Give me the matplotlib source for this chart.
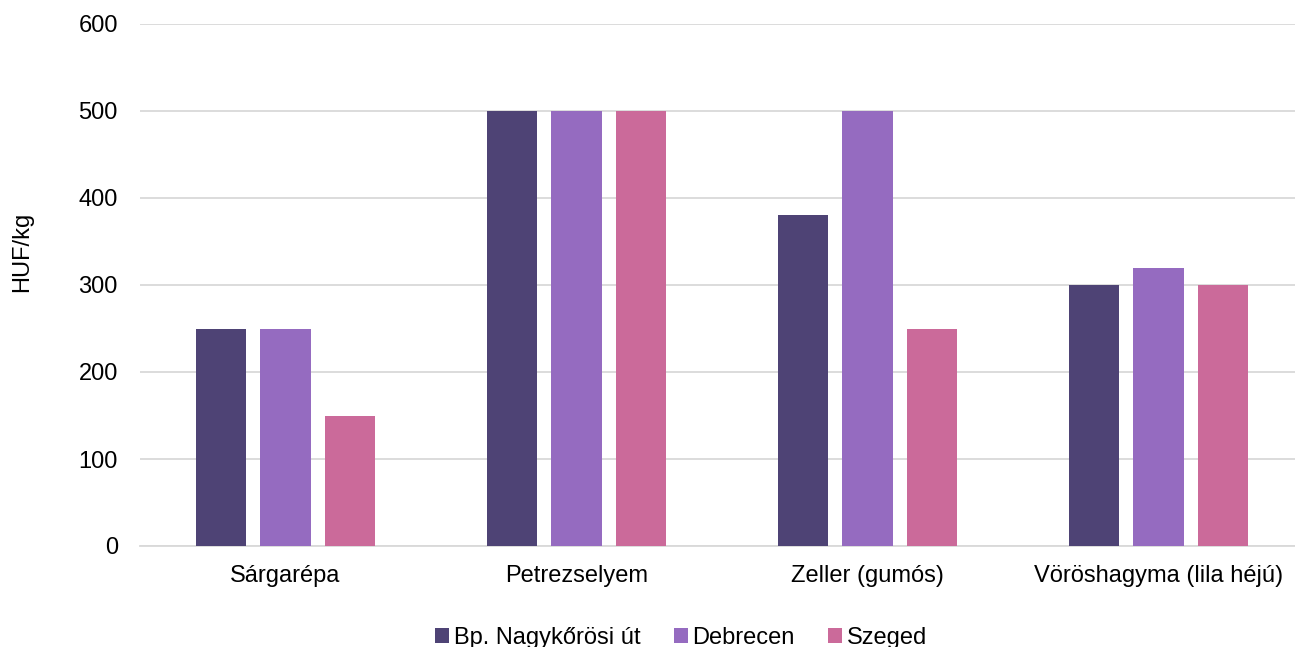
import matplotlib
matplotlib.use("Agg")
import matplotlib.pyplot as plt
import numpy as np

plt.rcParams['font.family'] = ['Liberation Sans', 'DejaVu Sans']

categories = ["Sárgarépa", "Petrezselyem", "Zeller (gumós)", "Vöröshagyma (lila héjú)"]
series_names = ["Bp. Nagykőrösi út", "Debrecen", "Szeged"]
bp = [250, 500, 380, 300]
debrecen = [250, 500, 500, 320]
szeged = [150, 500, 250, 300]
colors = ["#4E4375", "#956BC0", "#CB6A9A"]
yticks = [0, 100, 200, 300, 400, 500, 600]

fs = 17
fig = plt.figure(figsize=(12.95, 6.47), dpi=100)
ax = fig.add_axes([140/1295, 1-546/647, 1155/1295, (546-24)/647])

x = np.arange(len(categories))
w = 0.175
step = 0.2217
for i, (vals, name) in enumerate(zip([bp, debrecen, szeged], series_names)):
    ax.bar(x + (i-1)*step, vals, width=w, color=colors[i], label=name, zorder=3)

ax.set_xlim(-0.5, 3.469)
ax.set_ylim(0, 600)
ax.set_yticks(yticks)
ax.set_xticks(x)
ax.set_xticklabels(categories, fontsize=fs)
ax.tick_params(axis='y', labelsize=fs, length=0, pad=16)
ax.tick_params(axis='x', length=0, pad=14)
ax.grid(axis='y', color='#D9D9D9', linewidth=1.3, zorder=0)
for s in ['top', 'right', 'left']:
    ax.spines[s].set_visible(False)
ax.spines['bottom'].set_color('#D9D9D9')
ax.spines['bottom'].set_linewidth(1.3)
fig.text(22/1295, 1-252/647, "HUF/kg", fontsize=fs, rotation=90, ha='center', va='center')

leg = fig.legend(loc='lower center', bbox_to_anchor=(0.526, -0.036), ncol=3, frameon=False,
                 fontsize=fs, handlelength=0.6, handleheight=0.6, handletextpad=0.2, columnspacing=1.4)

fig.savefig("out.png", dpi=100)
